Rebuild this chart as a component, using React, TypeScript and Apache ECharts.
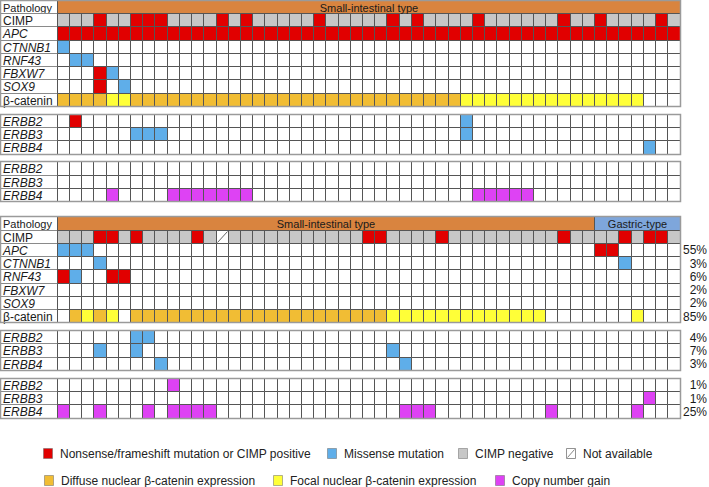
import React, { useEffect, useRef } from "react";
import * as echarts from "echarts";

// ---------- DATA ----------
const N_COLS = 51;
const sp = (s: string) => s.replace(/ /g, "");

// pathology spans (column start inclusive, end exclusive)
const topPathology = [{ label: "Small-intestinal type", start: 0, end: 51, kind: "SI" }];
const bottomPathology = [
  { label: "Small-intestinal type", start: 0, end: 44, kind: "SI" },
  { label: "Gastric-type", start: 44, end: 51, kind: "GA" },
];

const mainRowLabels = ["CIMP", "APC", "CTNNB1", "RNF43", "FBXW7", "SOX9", "β-catenin"];
const erbbRowLabels = ["ERBB2", "ERBB3", "ERBB4"];
const italicLabels = ["APC", "CTNNB1", "RNF43", "FBXW7", "SOX9", "ERBB2", "ERBB3", "ERBB4"];

// codes: R nonsense/frameshift or CIMP+, B missense, G CIMP negative, N not available,
// O diffuse nuclear β-catenin, Y focal nuclear β-catenin, M copy number gain, . none
const topMain = [
  "GGGRGGRRRG GGGRGRGGGG GRGGGGGRGR GGGGRGGGGG GRGGRGGGGRG",
  "RRRRRRRRRR RRRRRRRRRR RRRRRRRRRR RRRRRRRRRR RRRRRRRRRRR",
  "B......... .......... .......... .......... ...........",
  ".BB....... .......... .......... .......... ...........",
  "...RB..... .......... .......... .......... ...........",
  "...R.B.... .......... .......... .......... ...........",
  "OOOOYYOOOO OOOOOOOOOO OOOOOOOOOO OOOYYYYYYY YYYYYYYY...",
].map(sp);
const topMut = [
  ".R........ .......... .......... ...B...... ...........",
  "......BBB. .......... .......... ...B...... ...........",
  ".......... .......... .......... .......... ........B..",
].map(sp);
const topCnv = [
  ".......... .......... .......... .......... ...........",
  ".......... .......... .......... .......... ...........",
  "....M....M MMMMMM.... .......... ....MMMMM. ...........",
].map(sp);

const bottomMain = [
  "GGGRRGRGGG GRGNGGGGGG GGGGGRRGGG GRGGGGGGGG GRGGGGRGRRG",
  "BBB....... .......... .......... .......... ....RR.....",
  "...B...... .......... .......... .......... ......B....",
  "RB..RR.... .......... .......... .......... ...........",
  ".......... .......... .......... .......... ...........",
  ".......... .......... .......... .......... ...........",
  ".OYOY.OOOO OOOOOOOOOO OOOOOOOYYY YYYYYYYYYY .......Y...",
].map(sp);
const bottomMut = [
  "......BB.. .......... .......... .......... ...........",
  "...B..B... .......... .......B.. .......... ...........",
  "........B. .......... ........B. .......... ...........",
].map(sp);
const bottomCnv = [
  ".........M .......... .......... .......... ...........",
  ".......... .......... .......... .......... ........M..",
  "M..M...M.M MMM....... ........MM M......... M......M...",
].map(sp);

// percentages for bottom panel rows (CIMP has none)
const bottomMainPct = ["", "55%", "3%", "6%", "2%", "2%", "85%"];
const bottomMutPct = ["4%", "7%", "3%"];
const bottomCnvPct = ["1%", "1%", "25%"];

const legendLabels = [
  "Nonsense/frameshift mutation or CIMP positive",
  "Missense mutation",
  "CIMP negative",
  "Not available",
  "Diffuse nuclear β-catenin expression",
  "Focal nuclear β-catenin expression",
  "Copy number gain",
];
const legendCodes = ["R", "B", "G", "N", "O", "Y", "M"];

// ---------- STYLE / LAYOUT ----------
const COLORS: Record<string, string> = {
  R: "#E10000",
  B: "#5FAEE9",
  G: "#C7C7C7",
  O: "#F1BD34",
  Y: "#FFFF38",
  M: "#DE42F4",
  N: "#FFFFFF",
  ".": "#FFFFFF",
};
const PATH_COLORS: Record<string, string> = { SI: "#D9843F", GA: "#7EA6DB" };
const FONT = '"Liberation Sans", Arial, Helvetica, sans-serif';
const LABEL_COLS = 4.69; // label column width in column units
const PANEL_Y = [0, 16.35];
const MUT_OFF = 8.6;
const CNV_OFF = 12.2;
const Y_MAX = 31.55;
const LEGEND_POS = [
  { x: 43, row: 0 },
  { x: 327, row: 0 },
  { x: 458, row: 0 },
  { x: 566, row: 0 },
  { x: 44, row: 1 },
  { x: 273, row: 1 },
  { x: 495, row: 1 },
];
const LEGEND_ROW_Y = [453, 480];

// ---------- BUILD ITEMS ----------
type Cell = { col: number; y: number; code: string };
type Label = { text: string; y: number; italic: boolean };
type Path = { label: string; start: number; end: number; y: number; kind: string };
type Pct = { text: string; y: number };
type Block = { y: number; rows: number };

const cells: Cell[] = [];
const labels: Label[] = [];
const paths: Path[] = [];
const pcts: Pct[] = [];
const blocks: Block[] = [];

const panels = [
  { path: topPathology, main: topMain, mut: topMut, cnv: topCnv, pct: null as null | string[][] },
  { path: bottomPathology, main: bottomMain, mut: bottomMut, cnv: bottomCnv, pct: [bottomMainPct, bottomMutPct, bottomCnvPct] },
];

panels.forEach((p, pi) => {
  const py = PANEL_Y[pi];
  labels.push({ text: "Pathology", y: py, italic: false });
  p.path.forEach((s) => paths.push({ ...s, y: py }));
  const groups = [
    { rows: p.main, names: mainRowLabels, off: 1 },
    { rows: p.mut, names: erbbRowLabels, off: MUT_OFF },
    { rows: p.cnv, names: erbbRowLabels, off: CNV_OFF },
  ];
  groups.forEach((g, gi) => {
    g.rows.forEach((row, ri) => {
      const y = py + g.off + ri;
      labels.push({ text: g.names[ri], y, italic: italicLabels.includes(g.names[ri]) });
      for (let c = 0; c < N_COLS; c++) cells.push({ col: c, y, code: row[c] || "." });
      if (p.pct && p.pct[gi][ri]) pcts.push({ text: p.pct[gi][ri], y });
    });
  });
  blocks.push({ y: py, rows: 8 }, { y: py + MUT_OFF, rows: 3 }, { y: py + CNV_OFF, rows: 3 });
});

const snap = (v: number) => Math.round(v - 0.5) + 0.5;

export default function App() {
  const ref = useRef<HTMLDivElement>(null);
  useEffect(() => {
    if (!ref.current) return;
    const chart = echarts.init(ref.current, undefined, { renderer: "svg" });

    const legendGraphics: any[] = [];
    legendLabels.forEach((lab, i) => {
      const pos = LEGEND_POS[i];
      const cy = LEGEND_ROW_Y[pos.row];
      const code = legendCodes[i];
      legendGraphics.push({
        type: "rect",
        shape: { x: pos.x + 0.5, y: cy - 4.5, width: 9, height: 10 },
        style: { fill: COLORS[code], stroke: code === "N" ? "#777" : "#666", lineWidth: code === "N" ? 0.8 : 0.5 },
      });
      if (code === "N") {
        legendGraphics.push({
          type: "line",
          shape: { x1: pos.x + 1.5, y1: cy + 4.5, x2: pos.x + 8.5, y2: cy - 3.5 },
          style: { stroke: "#666", lineWidth: 0.8 },
        });
      }
      legendGraphics.push({
        type: "text",
        x: pos.x + 17,
        y: cy + 0.5,
        style: { text: lab, fill: "#222", font: `12px ${FONT}`, align: "left", verticalAlign: "middle" },
      });
    });

    const option: any = {
      animation: false,
      backgroundColor: "#fff",
      grid: { left: 57.3, right: 29, top: 0.5, bottom: 69 },
      xAxis: { type: "value", min: 0, max: N_COLS, show: false },
      yAxis: { type: "value", min: 0, max: Y_MAX, inverse: true, show: false },
      graphic: legendGraphics,
      series: [
        // label column cells
        {
          type: "custom",
          z: 2,
          data: labels.map((l) => [0, l.y]),
          renderItem: (params: any, api: any) => {
            const l = labels[params.dataIndex];
            const p0 = api.coord([-LABEL_COLS, l.y]);
            const p1 = api.coord([0, l.y + 1]);
            const x0 = snap(p0[0]), y0 = snap(p0[1]), x1 = snap(p1[0]), y1 = snap(p1[1]);
            const size = l.text === "Pathology" ? 11 : 12;
            return {
              type: "group",
              children: [
                { type: "rect", shape: { x: x0, y: y0, width: x1 - x0, height: y1 - y0 }, style: { fill: "#fff", stroke: "#8a8a8a", lineWidth: 1 } },
                {
                  type: "text",
                  x: x0 + 2.5,
                  y: (y0 + y1) / 2 + 0.5,
                  style: {
                    text: l.text,
                    fill: "#1a1a1a",
                    font: `${l.italic ? "italic " : ""}${size}px ${FONT}`,
                    align: "left",
                    verticalAlign: "middle",
                  },
                },
              ],
            };
          },
        },
        // data cells
        {
          type: "custom",
          z: 3,
          data: cells.map((c) => [c.col, c.y]),
          renderItem: (params: any, api: any) => {
            const c = cells[params.dataIndex];
            const p0 = api.coord([c.col, c.y]);
            const p1 = api.coord([c.col + 1, c.y + 1]);
            const x0 = snap(p0[0]), y0 = snap(p0[1]), x1 = snap(p1[0]), y1 = snap(p1[1]);
            const children: any[] = [
              { type: "rect", shape: { x: x0, y: y0, width: x1 - x0, height: y1 - y0 }, style: { fill: COLORS[c.code], stroke: "#555", lineWidth: 1 } },
            ];
            if (c.code === "N") {
              children.push({ type: "line", shape: { x1: x0 + 1, y1: y1 - 1, x2: x1 - 1, y2: y0 + 1 }, style: { stroke: "#666", lineWidth: 1 } });
            }
            return { type: "group", children };
          },
        },
        // pathology bands
        {
          type: "custom",
          z: 4,
          data: paths.map((p) => [p.start, p.y]),
          renderItem: (params: any, api: any) => {
            const p = paths[params.dataIndex];
            const p0 = api.coord([p.start, p.y]);
            const p1 = api.coord([p.end, p.y + 1]);
            const x0 = snap(p0[0]), y0 = snap(p0[1]), x1 = snap(p1[0]), y1 = snap(p1[1]);
            return {
              type: "group",
              children: [
                { type: "rect", shape: { x: x0, y: y0, width: x1 - x0, height: y1 - y0 }, style: { fill: PATH_COLORS[p.kind], stroke: "#555", lineWidth: 1 } },
                {
                  type: "text",
                  x: (x0 + x1) / 2,
                  y: (y0 + y1) / 2 + 0.5,
                  style: { text: p.label, fill: "#1a1a1a", font: `11px ${FONT}`, align: "center", verticalAlign: "middle" },
                },
              ],
            };
          },
        },
        // percentages
        {
          type: "custom",
          z: 4,
          data: pcts.map((p) => [N_COLS, p.y]),
          renderItem: (params: any, api: any) => {
            const p = pcts[params.dataIndex];
            const pt = api.coord([N_COLS, p.y + 0.5]);
            return {
              type: "text",
              x: pt[0] + 27,
              y: pt[1] + 0.5,
              style: { text: p.text, fill: "#1a1a1a", font: `12px ${FONT}`, align: "right", verticalAlign: "middle" },
            };
          },
        },
        // block outlines
        {
          type: "custom",
          z: 5,
          data: blocks.map((b) => [0, b.y]),
          renderItem: (params: any, api: any) => {
            const b = blocks[params.dataIndex];
            const p0 = api.coord([-LABEL_COLS, b.y]);
            const p1 = api.coord([N_COLS, b.y + b.rows]);
            const x0 = snap(p0[0]), y0 = snap(p0[1]), x1 = snap(p1[0]), y1 = snap(p1[1]);
            return {
              type: "rect",
              shape: { x: x0, y: y0, width: x1 - x0, height: y1 - y0 },
              style: { fill: "none", stroke: "#9a9a9a", lineWidth: 1.5 },
            };
          },
        },
      ],
    };
    chart.setOption(option);
    return () => chart.dispose();
  }, []);

  return (
    <div
      ref={ref}
      style={{ position: "fixed", left: 0, top: 0, width: 709, height: 487, background: "#fff" }}
    />
  );
}
